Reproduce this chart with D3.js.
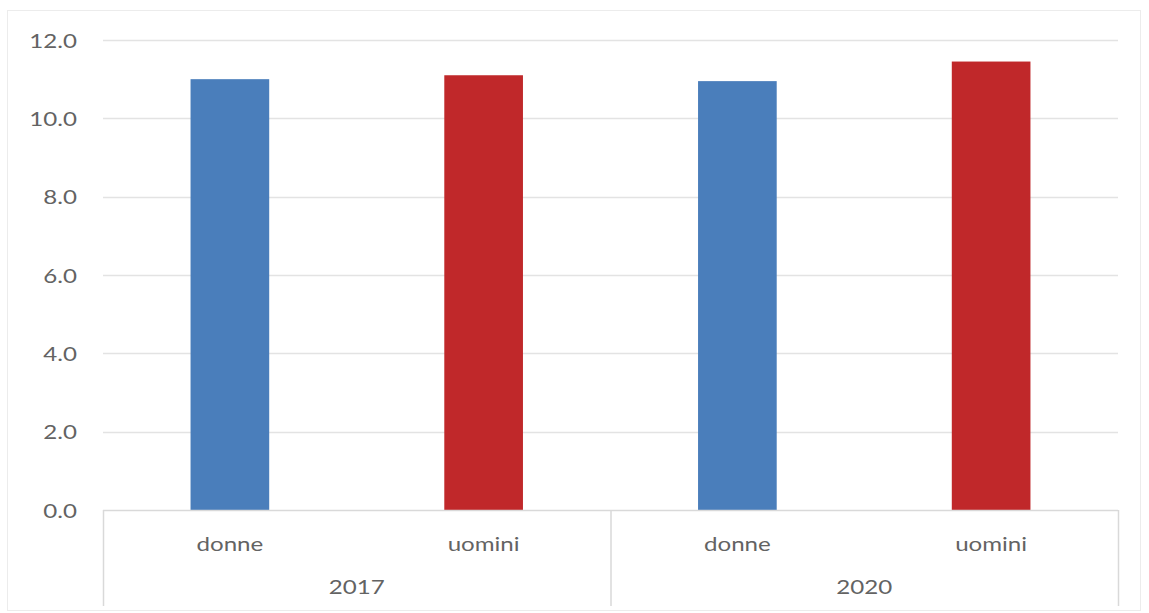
<!DOCTYPE html>
<html><head><meta charset="utf-8">
<script src="https://cdn.jsdelivr.net/npm/d3@7"></script>
<style>body{margin:0;background:#fff;} svg{display:block;}</style>
</head><body>
<script>
const years = ["2017", "2020"];
const sexes = ["donne", "uomini"];
const values2017 = [11.0, 11.1];
const values2020 = [10.95, 11.45];
const yTicks = [0, 2, 4, 6, 8, 10, 12];
const colors = ["#4a7ebb", "#c0282a"];

const data = [];
years.forEach((yr, i) => {
  const vals = i === 0 ? values2017 : values2020;
  sexes.forEach((s, j) => data.push({year: yr, sex: s, key: yr + "-" + s, value: vals[j], color: colors[j]}));
});

const W = 1149, H = 613;
const svg = d3.select("body").append("svg").attr("width", W).attr("height", H);
const font = "Lato, 'Open Sans', sans-serif";
const fs = 19, sx = 1.27;

// outer frame
svg.append("rect").attr("x", 7.5).attr("y", 10.5).attr("width", 1133).attr("height", 600)
  .attr("fill", "#fff").attr("stroke", "#ececec");

const mLeft = 103, mRight = 1118, mTop = 40, mBottom = 510;
const y = d3.scaleLinear().domain([0, 12]).range([mBottom, mTop]);
const xYear = d3.scaleBand().domain(years).range([mLeft, mRight]);
const x = d3.scaleBand().domain(data.map(d => d.key)).range([mLeft, mRight]).paddingInner(0.69).paddingOuter(0.345);

// gridlines
svg.append("g").selectAll("line").data(yTicks.filter(t => t > 0)).join("line")
  .attr("x1", mLeft).attr("x2", mRight)
  .attr("y1", d => Math.round(y(d)) + 0.5).attr("y2", d => Math.round(y(d)) + 0.5)
  .attr("stroke", "#e3e3e3").attr("stroke-width", 1.5);

function label(g, px, py, anchor, txt) {
  g.append("text")
    .attr("transform", `translate(${px},${py}) scale(${sx},1)`)
    .attr("dy", "0.35em").attr("text-anchor", anchor)
    .attr("font-family", font).attr("font-size", fs)
    .attr("fill", "#636363").text(txt);
}

// y tick labels
const gy = svg.append("g");
yTicks.forEach(t => label(gy, 77, y(t) + 1, "end", t.toFixed(1)));

// bars
svg.append("g").selectAll("rect").data(data).join("rect")
  .attr("x", d => x(d.key)).attr("width", x.bandwidth())
  .attr("y", d => y(d.value)).attr("height", d => y(0) - y(d.value))
  .attr("fill", d => d.color);

// axis line
svg.append("line").attr("x1", mLeft).attr("x2", mRight).attr("y1", mBottom + 0.5).attr("y2", mBottom + 0.5)
  .attr("stroke", "#d9d9d9").attr("stroke-width", 1.5);

// group separators
const seps = [mLeft, ...years.map(yr => xYear(yr) + xYear.bandwidth())];
svg.append("g").selectAll("line").data(seps).join("line")
  .attr("x1", d => d + 0.5).attr("x2", d => d + 0.5).attr("y1", mBottom).attr("y2", 606)
  .attr("stroke", "#d9d9d9").attr("stroke-width", 1.5);

// category labels
const gc = svg.append("g");
data.forEach(d => label(gc, x(d.key) + x.bandwidth() / 2, 544, "middle", d.sex));

// year labels
const gyr = svg.append("g");
years.forEach(yr => label(gyr, xYear(yr) + xYear.bandwidth() / 2, 587, "middle", yr));
</script>
</body></html>
